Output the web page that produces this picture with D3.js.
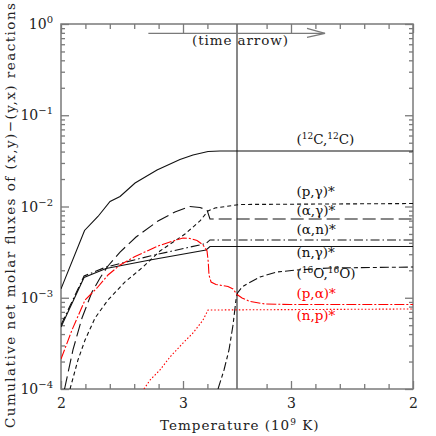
<!DOCTYPE html>
<html><head><meta charset="utf-8">
<script src="https://cdn.jsdelivr.net/npm/d3@7"></script>
<style>
body{margin:0;background:#fff;}
text{font-family:"DejaVu Serif",serif;}
</style></head>
<body><svg id="c" width="436" height="436"></svg>
<script>
// x coordinate: "time-like" temperature axis (heating 2 -> peak, cooling peak -> 2, mirrored)
const T_START = 2.0, T_PEAK = 3.4426;
const xTickTemps = [2.0, 2.2, 2.4, 2.6, 2.8, 3.0, 3.2];
const xMajorTemps = [2, 3];
const xTickLabels = ["2", "3", "3", "2"];
const yDecades = [1e-4, 1e-3, 1e-2, 1e-1, 1e0];
const yTickLabels = [["10","−4"],["10","−3"],["10","−2"],["10","−1"],["10","0"]];

// series (x = time-like coordinate, y = cumulative net molar flux)
const c12c12_x = [2.0, 2.193, 2.303, 2.402, 2.484, 2.607, 2.787, 2.975, 3.082, 3.205, 3.303, 4.885];
const c12c12_y = [1.25e-3, 5.46e-3, 7.77e-3, 1.134e-2, 1.287e-2, 1.81e-2, 2.51e-2, 3.27e-2, 3.67e-2, 4.01e-2, 4.06e-2, 4.06e-2];

const pg_x = [2.074, 2.139, 2.197, 2.279, 2.385, 2.525, 2.672, 2.811, 3.016, 3.139, 3.205, 3.262, 3.467, 4.885];
const pg_y = [1.0e-4, 2.08e-4, 3.44e-4, 6.0e-4, 9.45e-4, 1.49e-3, 2.17e-3, 3.25e-3, 4.99e-3, 6.94e-3, 8.93e-3, 9.63e-3, 1.052e-2, 1.078e-2];

const ag_x = [2.029, 2.098, 2.172, 2.254, 2.320, 2.385, 2.484, 2.615, 2.795, 2.934, 3.057, 3.139, 3.197, 3.221, 4.885];
const ag_y = [1.0e-4, 2.68e-4, 6.0e-4, 1.156e-3, 1.646e-3, 2.23e-3, 3.17e-3, 4.63e-3, 6.94e-3, 8.71e-3, 1.0e-2, 9.75e-3, 9.15e-3, 7.3e-3, 7.3e-3];

const an_x = [2.0, 2.189, 2.369, 2.730, 3.189, 3.221, 4.885];
const an_y = [5.03e-4, 1.73e-3, 2.17e-3, 2.87e-3, 3.93e-3, 4.30e-3, 4.30e-3];

const ng_x = [2.0, 2.189, 2.369, 2.730, 3.189, 3.221, 4.885];
const ng_y = [4.78e-4, 1.667e-3, 2.09e-3, 2.59e-3, 3.34e-3, 3.64e-3, 3.64e-3];

const o16o16_x = [3.287, 3.336, 3.377, 3.410, 3.434, 3.447, 3.484, 3.525, 3.631, 3.770, 3.934, 4.205, 4.885];
const o16o16_y = [1.0e-4, 1.615e-4, 2.676e-4, 5.03e-4, 9.45e-4, 1.127e-3, 1.311e-3, 1.415e-3, 1.688e-3, 1.915e-3, 2.014e-3, 2.12e-3, 2.17e-3];

const pa_x = [2.0, 2.090, 2.197, 2.295, 2.385, 2.484, 2.607, 2.795, 2.893, 3.0, 3.057, 3.115, 3.164, 3.197, 3.207, 3.213, 3.230, 3.270, 3.369, 3.410, 3.443, 3.484, 3.549, 3.672, 3.877, 4.885];
const pa_y = [2.13e-4, 4.43e-4, 9.45e-4, 1.279e-3, 1.775e-3, 2.285e-3, 2.83e-3, 3.69e-3, 4.08e-3, 4.52e-3, 4.46e-3, 4.24e-3, 3.79e-3, 3.25e-3, 2.46e-3, 1.775e-3, 1.488e-3, 1.397e-3, 1.328e-3, 1.247e-3, 1.085e-3, 9.94e-4, 9.1e-4, 8.54e-4, 8.43e-4, 8.43e-4];

const np_x = [2.680, 2.730, 2.811, 2.893, 3.0, 3.082, 3.164, 3.205, 4.885];
const np_y = [1.0e-4, 1.255e-4, 1.615e-4, 2.24e-4, 3.19e-4, 4.11e-4, 5.7e-4, 7.34e-4, 7.53e-4];

const series = [
  {x: c12c12_x, y: c12c12_y, color: "#111", dash: null},
  {x: pg_x, y: pg_y, color: "#111", dash: "4,3"},
  {x: ag_x, y: ag_y, color: "#111", dash: "13,5"},
  {x: an_x, y: an_y, color: "#111", dash: "9,3,1.5,3"},
  {x: ng_x, y: ng_y, color: "#111", dash: null},
  {x: o16o16_x, y: o16o16_y, color: "#111", dash: "9,3,4,3"},
  {x: pa_x, y: pa_y, color: "#f00", dash: "10,2,2,2"},
  {x: np_x, y: np_y, color: "#f00", dash: "1.5,2"}
];

const labels = [
  {parts: [["("],["12","sup"],["C,"],["12","sup"],["C)"]], color: "#111", py: 144},
  {parts: [["(p,γ)*"]], color: "#111", py: 196},
  {parts: [["(α,γ)*"]], color: "#111", py: 215},
  {parts: [["(α,n)*"]], color: "#111", py: 234},
  {parts: [["(n,γ)*"]], color: "#111", py: 257},
  {parts: [["("],["16","sup"],["O,"],["16","sup"],["O)"]], color: "#111", py: 278},
  {parts: [["(p,α)*"]], color: "#f00", py: 298},
  {parts: [["(n,p)*"]], color: "#f00", py: 320}
];

const svg = d3.select("#c");
const L = 61, R = 413, T = 24, B = 389;
const x = d3.scaleLinear().domain([T_START, 2*T_PEAK - T_START]).range([L, R]);
const y = d3.scaleLog().domain([1e-4, 1]).range([B, T]);
const axisColor = "#7a7a7a";

// x ticks positions (mirrored)
const mirror = t => 2*T_PEAK - t;
const xMinor = xTickTemps.filter(t => !xMajorTemps.includes(t));
const xMinorAll = xMinor.concat(xMinor.map(mirror));
const xMajorAll = [xMajorTemps[0], xMajorTemps[1], mirror(xMajorTemps[1]), mirror(xMajorTemps[0])];

function styleAxis(g){ g.select(".domain").remove(); g.selectAll("line").attr("stroke", axisColor).attr("stroke-width", 1.3); }

svg.append("g").attr("transform", `translate(0,${B})`)
  .call(d3.axisBottom(x).tickValues(xMinorAll).tickSize(-5).tickFormat(""))
  .call(styleAxis);
svg.append("g").attr("transform", `translate(0,${B})`)
  .call(d3.axisBottom(x).tickValues(xMajorAll).tickSize(-8).tickPadding(9).tickFormat((d,i) => xTickLabels[i]))
  .call(styleAxis)
  .call(g => g.selectAll("text").attr("fill", "#222").attr("font-size", 14).attr("font-family", "DejaVu Serif"));
svg.append("g").attr("transform", `translate(0,${T})`)
  .call(d3.axisTop(x).tickValues(xMinorAll).tickSize(-5).tickFormat(""))
  .call(styleAxis);
svg.append("g").attr("transform", `translate(0,${T})`)
  .call(d3.axisTop(x).tickValues(xMajorAll).tickSize(-9).tickFormat(""))
  .call(styleAxis);

// y ticks
const yMinor = [];
for (let e = -4; e < 0; e++) for (let k = 2; k <= 9; k++) yMinor.push(k * Math.pow(10, e));
[[d3.axisLeft, L, -4, -8], [d3.axisRight, R, -4, -8]].forEach(([ax, pos, smin, smaj]) => {
  svg.append("g").attr("transform", `translate(${pos},0)`)
    .call(ax(y).tickValues(yMinor).tickSize(smin).tickFormat("")).call(styleAxis);
  svg.append("g").attr("transform", `translate(${pos},0)`)
    .call(ax(y).tickValues(yDecades).tickSize(smaj).tickFormat("")).call(styleAxis);
});

// y tick labels with superscripts
yDecades.forEach((d, i) => {
  const t = svg.append("text").attr("x", 53).attr("y", y(d) + 5)
    .attr("text-anchor", "end").attr("font-size", 14).attr("fill", "#222");
  t.append("tspan").text(yTickLabels[i][0]);
  t.append("tspan").attr("font-size", 10).attr("dy", -6).text(yTickLabels[i][1]);
});

// frame
svg.append("rect").attr("x", L).attr("y", T).attr("width", R - L).attr("height", B - T)
  .attr("fill", "none").attr("stroke", axisColor).attr("stroke-width", 1.5);

// clip
svg.append("clipPath").attr("id", "clip").append("rect").attr("x", L).attr("y", T).attr("width", R - L).attr("height", B - T);

// vertical peak line
svg.append("line").attr("x1", x(T_PEAK)).attr("x2", x(T_PEAK)).attr("y1", T).attr("y2", B)
  .attr("stroke", "#6a6a6a").attr("stroke-width", 1.6);

// curves
const line = d3.line().x(d => x(d[0])).y(d => y(d[1]));
const gC = svg.append("g").attr("clip-path", "url(#clip)");
series.forEach(s => {
  gC.append("path").datum(s.x.map((v, i) => [v, s.y[i]]))
    .attr("d", line).attr("fill", "none").attr("stroke", s.color).attr("stroke-width", 1.1)
    .attr("stroke-dasharray", s.dash);
});

// time arrow
const ay = T + 9.3;
const ax0 = x(2.716), ax1 = x(4.164);
svg.append("line").attr("x1", ax0).attr("x2", ax1).attr("y1", ay).attr("y2", ay).attr("stroke", axisColor).attr("stroke-width", 1.3);
svg.append("path").attr("d", `M${ax1 - 18},${ay - 5} L${ax1},${ay} L${ax1 - 18},${ay + 4}`)
  .attr("fill", "none").attr("stroke", axisColor).attr("stroke-width", 1.3);
svg.append("text").attr("x", 192).attr("y", T + 21)
  .attr("font-size", 13.5).attr("textLength", 96).attr("lengthAdjust", "spacing").attr("fill", "#222").text("(time arrow)");

// curve labels
const lx = x(3.93);
labels.forEach(lb => {
  const t = svg.append("text").attr("x", lx).attr("y", lb.py).attr("font-size", 13.5).attr("fill", lb.color);
  lb.parts.forEach(p => {
    if (p[1] === "sup") t.append("tspan").attr("font-size", 9).attr("baseline-shift", "5").text(p[0]);
    else t.append("tspan").text(p[0]);
  });
});

// axis titles
const xt = svg.append("text").attr("x", 160).attr("y", 430)
  .attr("font-size", 13.5).attr("letter-spacing", 1.0).attr("fill", "#222");
xt.append("tspan").text("Temperature (10");
xt.append("tspan").attr("font-size", 9).attr("baseline-shift", "5").text("9");
xt.append("tspan").text(" K)");

svg.append("text").attr("transform", "translate(15,428) rotate(-90)")
  .attr("font-size", 13.5).attr("textLength", 425).attr("lengthAdjust", "spacing").attr("fill", "#222")
  .text("Cumulative net molar fluxes of (x,y)−(y,x) reactions");
</script></body></html>
